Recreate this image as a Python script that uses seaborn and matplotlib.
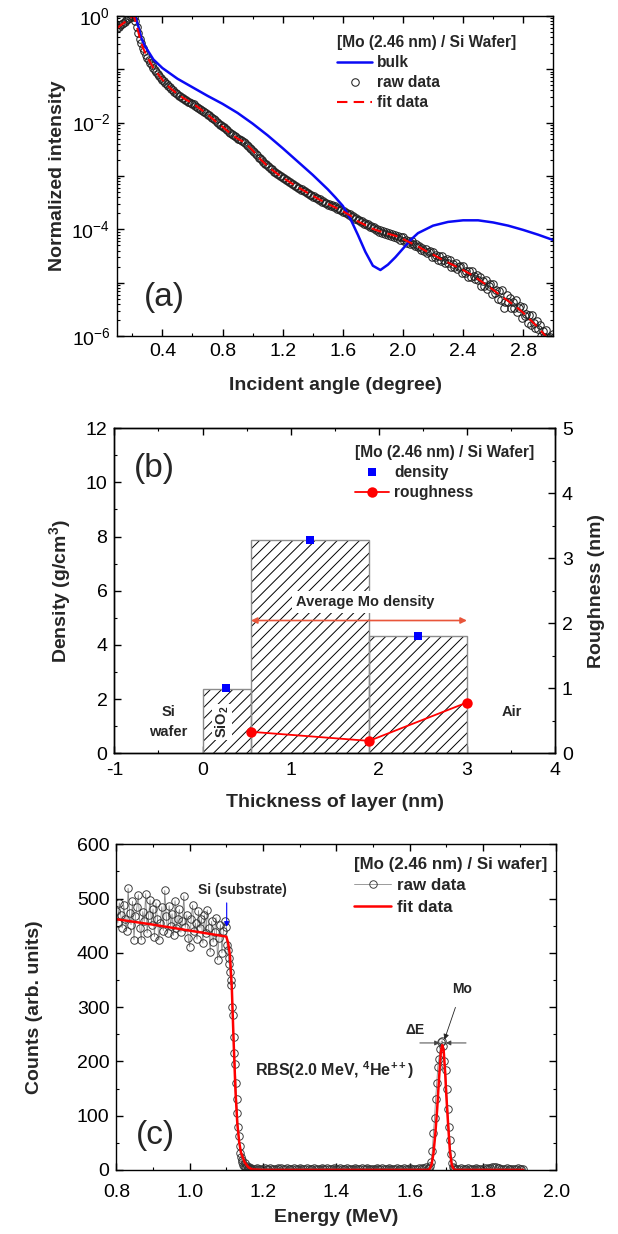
import numpy as np
import pandas as pd
import matplotlib
matplotlib.use('Agg')
import matplotlib.pyplot as plt
import seaborn as sns
from matplotlib.ticker import MultipleLocator, LogLocator, FuncFormatter, NullFormatter

# ── (a) XRR : incident angle (deg) / log10(normalized intensity) ─────────────
angle_bulk = [0.10, 0.20, 0.22, 0.24, 0.26, 0.28, 0.30, 0.34, 0.40, 0.50,
              0.60, 0.70, 0.80, 0.90, 1.00, 1.10, 1.20, 1.30, 1.40, 1.50,
              1.55, 1.60, 1.65, 1.70, 1.75, 1.80, 1.85, 1.90, 1.95, 2.00,
              2.05, 2.10, 2.20, 2.30, 2.40, 2.50, 2.60, 2.70, 2.80, 2.90, 3.00]
logI_bulk = [0.0, 0.0, -0.02, -0.20, -0.42, -0.55, -0.64, -0.82, -0.98, -1.18,
             -1.34, -1.50, -1.65, -1.82, -2.02, -2.24, -2.48, -2.73, -2.98, -3.25,
             -3.40, -3.56, -3.80, -4.10, -4.42, -4.68, -4.76, -4.66, -4.52, -4.36,
             -4.20, -4.07, -3.93, -3.86, -3.83, -3.83, -3.87, -3.93, -4.01, -4.10, -4.20]

angle_fit = [0.10, 0.15, 0.20, 0.21, 0.23, 0.25, 0.27, 0.30, 0.34, 0.40,
             0.45, 0.50, 0.55, 0.60, 0.65, 0.70, 0.75, 0.80, 0.85, 0.90,
             0.95, 1.00, 1.05, 1.10, 1.15, 1.20, 1.25, 1.30, 1.35, 1.40,
             1.45, 1.50, 1.55, 1.60, 1.65, 1.70, 1.75, 1.80, 1.85, 1.90,
             1.95, 2.00, 2.05, 2.10, 2.15, 2.20, 2.25, 2.30, 2.35, 2.40,
             2.45, 2.50, 2.55, 2.60, 2.65, 2.70, 2.75, 2.80, 2.85, 2.90,
             2.95, 3.00]
logI_fit = [-0.23, -0.12, -0.01, 0.0, -0.20, -0.42, -0.60, -0.78, -0.98, -1.20,
            -1.35, -1.47, -1.56, -1.64, -1.74, -1.85, -1.97, -2.08, -2.20, -2.30,
            -2.38, -2.52, -2.68, -2.82, -2.93, -3.03, -3.12, -3.21, -3.29, -3.37,
            -3.45, -3.52, -3.59, -3.66, -3.74, -3.85, -3.92, -3.99, -4.04, -4.08,
            -4.12, -4.18, -4.25, -4.32, -4.40, -4.47, -4.55, -4.62, -4.69, -4.76,
            -4.84, -4.93, -5.03, -5.13, -5.24, -5.34, -5.44, -5.56, -5.70, -5.84,
            -6.00, -6.15]

angle_raw = [0.10, 0.11, 0.12, 0.13, 0.14, 0.15, 0.16, 0.17, 0.18, 0.19,
             0.20, 0.21, 0.22, 0.23, 0.24, 0.25, 0.26, 0.27, 0.28, 0.29,
             0.30, 0.31, 0.32, 0.33, 0.34, 0.35, 0.36, 0.37, 0.38, 0.39,
             0.40, 0.41, 0.42, 0.43, 0.44, 0.45, 0.46, 0.47, 0.48, 0.49,
             0.50, 0.51, 0.52, 0.53, 0.54, 0.55, 0.56, 0.57, 0.58, 0.59,
             0.60, 0.61, 0.62, 0.63, 0.64, 0.65, 0.66, 0.67, 0.68, 0.69,
             0.70, 0.71, 0.72, 0.73, 0.74, 0.75, 0.76, 0.77, 0.78, 0.79,
             0.80, 0.81, 0.82, 0.83, 0.84, 0.85, 0.86, 0.87, 0.88, 0.89,
             0.90, 0.91, 0.92, 0.93, 0.94, 0.95, 0.96, 0.97, 0.98, 0.99,
             1.00, 1.01, 1.02, 1.03, 1.04, 1.05, 1.06, 1.07, 1.08, 1.09,
             1.10, 1.11, 1.12, 1.13, 1.14, 1.15, 1.16, 1.17, 1.18, 1.19,
             1.20, 1.21, 1.22, 1.23, 1.24, 1.25, 1.26, 1.27, 1.28, 1.29,
             1.30, 1.31, 1.32, 1.33, 1.34, 1.35, 1.36, 1.37, 1.38, 1.39,
             1.40, 1.41, 1.42, 1.43, 1.44, 1.45, 1.46, 1.47, 1.48, 1.49,
             1.50, 1.51, 1.52, 1.53, 1.54, 1.55, 1.56, 1.57, 1.58, 1.59,
             1.60, 1.61, 1.62, 1.63, 1.64, 1.65, 1.66, 1.67, 1.68, 1.69,
             1.70, 1.71, 1.72, 1.73, 1.74, 1.75, 1.76, 1.77, 1.78, 1.79,
             1.80, 1.81, 1.82, 1.83, 1.84, 1.85, 1.86, 1.87, 1.88, 1.89,
             1.90, 1.91, 1.92, 1.93, 1.94, 1.95, 1.96, 1.97, 1.98, 1.99,
             2.00, 2.01, 2.02, 2.03, 2.04, 2.05, 2.06, 2.07, 2.08, 2.09,
             2.10, 2.11, 2.12, 2.13, 2.14, 2.15, 2.16, 2.17, 2.18, 2.19,
             2.20, 2.21, 2.22, 2.23, 2.24, 2.25, 2.26, 2.27, 2.28, 2.29,
             2.30, 2.31, 2.32, 2.33, 2.34, 2.35, 2.36, 2.37, 2.38, 2.39,
             2.40, 2.41, 2.42, 2.43, 2.44, 2.45, 2.46, 2.47, 2.48, 2.49,
             2.50, 2.51, 2.52, 2.53, 2.54, 2.55, 2.56, 2.57, 2.58, 2.59,
             2.60, 2.61, 2.62, 2.63, 2.64, 2.65, 2.66, 2.67, 2.68, 2.69,
             2.70, 2.71, 2.72, 2.73, 2.74, 2.75, 2.76, 2.77, 2.78, 2.79,
             2.80, 2.81, 2.82, 2.83, 2.84, 2.85, 2.86, 2.87, 2.88, 2.89,
             2.90, 2.91, 2.92, 2.93, 2.94, 2.95, 2.96, 2.97, 2.98, 2.99,
             3.00]
logI_raw = [-0.24, -0.21, -0.18, -0.16, -0.13, -0.11, -0.09, -0.06, -0.04, -0.02,
            -0.01, -0.02, -0.10, -0.22, -0.33, -0.43, -0.52, -0.60, -0.67, -0.73,
            -0.79, -0.83, -0.88, -0.93, -0.97, -1.02, -1.05, -1.10, -1.12, -1.16,
            -1.20, -1.22, -1.26, -1.28, -1.32, -1.34, -1.38, -1.39, -1.43, -1.44,
            -1.47, -1.50, -1.50, -1.54, -1.55, -1.57, -1.58, -1.61, -1.61, -1.64,
            -1.65, -1.66, -1.69, -1.70, -1.73, -1.74, -1.77, -1.78, -1.81, -1.82,
            -1.85, -1.86, -1.89, -1.91, -1.94, -1.96, -1.99, -2.00, -2.04, -2.05,
            -2.08, -2.09, -2.13, -2.14, -2.18, -2.19, -2.22, -2.23, -2.26, -2.27,
            -2.30, -2.30, -2.33, -2.34, -2.37, -2.38, -2.42, -2.43, -2.47, -2.49,
            -2.53, -2.55, -2.59, -2.61, -2.66, -2.67, -2.71, -2.73, -2.77, -2.78,
            -2.82, -2.83, -2.87, -2.87, -2.92, -2.92, -2.96, -2.96, -3.00, -3.00,
            -3.04, -3.04, -3.08, -3.08, -3.12, -3.11, -3.15, -3.15, -3.19, -3.18,
            -3.22, -3.22, -3.26, -3.25, -3.29, -3.28, -3.32, -3.32, -3.36, -3.35,
            -3.39, -3.38, -3.42, -3.41, -3.45, -3.44, -3.48, -3.47, -3.51, -3.50,
            -3.54, -3.52, -3.56, -3.55, -3.59, -3.57, -3.62, -3.60, -3.64, -3.63,
            -3.67, -3.66, -3.70, -3.69, -3.73, -3.72, -3.77, -3.75, -3.80, -3.78,
            -3.83, -3.82, -3.86, -3.84, -3.89, -3.88, -3.92, -3.90, -3.95, -3.94,
            -3.98, -3.96, -4.01, -3.99, -4.04, -4.01, -4.06, -4.03, -4.09, -4.05,
            -4.11, -4.07, -4.13, -4.09, -4.15, -4.11, -4.17, -4.13, -4.20, -4.15,
            -4.14, -4.21, -4.20, -4.26, -4.22, -4.28, -4.21, -4.28, -4.31, -4.27,
            -4.33, -4.31, -4.39, -4.35, -4.40, -4.36, -4.45, -4.42, -4.41, -4.51,
            -4.42, -4.51, -4.48, -4.58, -4.50, -4.59, -4.50, -4.58, -4.62, -4.56,
            -4.63, -4.58, -4.71, -4.64, -4.71, -4.62, -4.75, -4.71, -4.69, -4.82,
            -4.69, -4.81, -4.77, -4.89, -4.78, -4.90, -4.78, -4.88, -4.93, -4.85,
            -4.95, -4.89, -5.05, -4.96, -5.05, -4.94, -5.12, -5.05, -5.03, -5.21,
            -5.03, -5.19, -5.14, -5.31, -5.16, -5.32, -5.14, -5.48, -5.36, -5.23,
            -5.36, -5.28, -5.48, -5.36, -5.47, -5.33, -5.55, -5.47, -5.44, -5.66,
            -5.46, -5.63, -5.59, -5.75, -5.61, -5.78, -5.61, -5.76, -5.84, -5.72,
            -5.86, -5.79, -6.00, -5.90, -6.02, -5.89, -6.12, -6.04, -6.02, -6.24,
            -5.95]

# ── (b) layer model : thickness (nm) ─────────────────────────────────────────
layer_start = [0.0, 0.55, 1.89]
layer_end = [0.55, 1.89, 3.0]
layer_density = [2.38, 7.87, 4.33]
density_pos = [0.27, 1.22, 2.44]
density_val = [2.40, 7.88, 4.32]
rough_pos = [0.55, 1.89, 3.0]
rough_val = [0.33, 0.19, 0.78]
avg_mo_span = [0.55, 3.0]
avg_mo_density = 4.9

# ── (c) RBS : energy (MeV) / counts ──────────────────────────────────────────
e_plateau = [0.800, 0.804, 0.808, 0.812, 0.816, 0.820, 0.824, 0.828, 0.832, 0.836,
             0.840, 0.844, 0.848, 0.852, 0.856, 0.860, 0.864, 0.868, 0.872, 0.876,
             0.880, 0.884, 0.888, 0.892, 0.896, 0.900, 0.904, 0.908, 0.912, 0.916,
             0.920, 0.924, 0.928, 0.932, 0.936, 0.940, 0.944, 0.948, 0.952, 0.956,
             0.960, 0.964, 0.968, 0.972, 0.976, 0.980, 0.984, 0.988, 0.992, 0.996,
             1.000, 1.004, 1.008, 1.012, 1.016, 1.020, 1.024, 1.028, 1.032, 1.036,
             1.040, 1.044, 1.048, 1.052, 1.056, 1.060, 1.064, 1.068, 1.072, 1.076,
             1.080, 1.084, 1.088, 1.092, 1.096, 1.100]
c_plateau = [478, 455, 492, 470, 446, 488, 462, 440, 519, 473,
             452, 495, 424, 468, 484, 507, 445, 424, 476, 458,
             509, 437, 470, 498, 452, 481, 430, 492, 463, 424,
             455, 485, 441, 515, 468, 436, 487, 450, 472, 432,
             496, 445, 463, 480, 438, 458, 505, 447, 470, 428,
             411, 462, 488, 440, 455, 425, 478, 446, 462, 418,
             470, 436, 479, 445, 402, 458, 420, 438, 465, 387,
             428, 452, 400, 440, 458, 448]
e_edge = [1.102, 1.104, 1.106, 1.108, 1.110, 1.112, 1.114, 1.116, 1.118, 1.120,
          1.122, 1.124, 1.126, 1.128, 1.130, 1.132, 1.134, 1.136, 1.138, 1.140,
          1.142, 1.144, 1.146, 1.148, 1.150, 1.152, 1.154, 1.156, 1.158, 1.160,
          1.162, 1.164, 1.166, 1.168, 1.170]
c_edge = [415, 405, 390, 380, 365, 350, 340, 300, 285, 245,
          215, 195, 160, 130, 105, 80, 62, 45, 32, 24,
          18, 14, 10, 8, 12, 6, 5, 8, 4, 3,
          5, 2, 3, 1, 2]
e_base = [1.175, 1.180, 1.185, 1.190, 1.195, 1.200, 1.205, 1.210, 1.215, 1.220,
          1.225, 1.230, 1.235, 1.240, 1.245, 1.250, 1.255, 1.260, 1.265, 1.270,
          1.275, 1.280, 1.285, 1.290, 1.295, 1.300, 1.305, 1.310, 1.315, 1.320,
          1.325, 1.330, 1.335, 1.340, 1.345, 1.350, 1.355, 1.360, 1.365, 1.370,
          1.375, 1.380, 1.385, 1.390, 1.395, 1.400, 1.405, 1.410, 1.415, 1.420,
          1.425, 1.430, 1.435, 1.440, 1.445, 1.450, 1.455, 1.460, 1.465, 1.470,
          1.475, 1.480, 1.485, 1.490, 1.495, 1.500, 1.505, 1.510, 1.515, 1.520,
          1.525, 1.530, 1.535, 1.540, 1.545, 1.550, 1.555, 1.560, 1.565, 1.570,
          1.575, 1.580, 1.585, 1.590, 1.595, 1.600, 1.605, 1.610, 1.615, 1.620,
          1.625, 1.630, 1.635, 1.640, 1.645]
c_base = [2, 1, 3, 2, 1, 2, 4, 2, 1, 3,
          2, 2, 1, 3, 2, 4, 1, 2, 3, 2,
          1, 2, 3, 1, 2, 4, 2, 1, 2, 3,
          2, 1, 2, 3, 1, 2, 2, 4, 1, 2,
          3, 2, 1, 2, 3, 2, 1, 4, 2, 2,
          1, 3, 2, 1, 2, 3, 2, 1, 2, 4,
          2, 1, 3, 2, 2, 1, 2, 3, 1, 2,
          4, 2, 1, 2, 3, 2, 1, 2, 3, 2,
          1, 2, 4, 2, 1, 3, 2, 2, 1, 2,
          3, 2, 4, 3, 5]
e_peak = [1.650, 1.653, 1.656, 1.659, 1.662, 1.665, 1.668, 1.671, 1.674, 1.677,
          1.680, 1.683, 1.686, 1.689, 1.692, 1.695, 1.698, 1.701, 1.704, 1.707,
          1.710, 1.713, 1.716, 1.719, 1.722, 1.725, 1.728]
c_peak = [2, 4, 8, 15, 35, 68, 95, 130, 160, 190,
          205, 222, 236, 238, 228, 200, 184, 150, 112, 80,
          55, 30, 12, 6, 3, 2, 1]
e_tail = [1.735, 1.740, 1.745, 1.750, 1.755, 1.760, 1.765, 1.770, 1.775, 1.780,
          1.785, 1.790, 1.795, 1.800, 1.805, 1.810, 1.815, 1.820, 1.825, 1.830,
          1.835, 1.840, 1.845, 1.850, 1.855, 1.860, 1.865, 1.870, 1.875, 1.880,
          1.885, 1.890, 1.895, 1.900, 1.905, 1.910]
c_tail = [1, 3, 2, 1, 2, 3, 2, 1, 2, 3,
          2, 1, 2, 2, 3, 2, 3, 4, 5, 6,
          5, 4, 3, 2, 1, 2, 3, 2, 1, 2,
          1, 2, 3, 1, 2, 2]

fit_energy = [0.80, 0.90, 1.00, 1.10, 1.105, 1.110, 1.115, 1.120, 1.125, 1.130,
              1.135, 1.140, 1.150, 1.160, 1.170, 1.200, 1.650, 1.655, 1.660, 1.665,
              1.670, 1.675, 1.680, 1.685, 1.689, 1.693, 1.697, 1.700, 1.705, 1.710,
              1.715, 1.720, 1.725, 1.910]
fit_counts = [462, 452, 441, 430, 418, 395, 335, 235, 145, 85,
              52, 32, 14, 5, 1, 0, 0, 2, 10, 30,
              65, 110, 165, 215, 230, 220, 180, 140, 85, 35,
              10, 2, 0, 0]

# ── Estilo ────────────────────────────────────────────────────────────────────
sns.set_style('ticks')
plt.rcParams.update({
    'font.family': ['Liberation Sans', 'DejaVu Sans'],
    'mathtext.fontset': 'custom',
    'mathtext.rm': 'Liberation Sans',
    'mathtext.bf': 'Liberation Sans:bold',
    'mathtext.it': 'Liberation Sans:italic',
    'axes.unicode_minus': False,
    'axes.edgecolor': 'black',
    'axes.linewidth': 1.0,
    'xtick.color': 'black',
    'ytick.color': 'black',
    'hatch.linewidth': 0.7,
})

TICK_FS = 14
LABEL_FS = 14


def style_ticks(ax, right=True, xpad=5):
    ax.tick_params(which='both', direction='in', top=True, right=right,
                   labelsize=TICK_FS, pad=5)
    ax.tick_params(axis='x', which='both', pad=xpad)
    ax.tick_params(which='major', length=5, width=1.0)
    ax.tick_params(which='minor', length=2.5, width=0.8)


def even_decades(v, _):
    e = int(round(np.log10(v)))
    return f'$\\mathdefault{{10^{{{e}}}}}$' if e % 2 == 0 else ''


fig = plt.figure(figsize=(6.18, 12.34), dpi=100)

# ── (a) ───────────────────────────────────────────────────────────────────────
ax_a = fig.add_axes([0.1898, 0.7275, 0.7055, 0.2598])
df_raw = pd.DataFrame({'angle': angle_raw, 'I': 10 ** np.array(logI_raw)})
sns.lineplot(data=df_raw, x='angle', y='I', ax=ax_a, marker='o', linestyle='',
             ms=5.4, mfc='none', mec='#222222', mew=0.75, color='#222222',
             estimator=None, sort=False, label='raw data')
sns.lineplot(x=angle_bulk, y=10 ** np.array(logI_bulk), ax=ax_a, color='#0a0af5',
             lw=1.8, estimator=None, sort=False, label='bulk')
sns.lineplot(x=angle_fit, y=10 ** np.array(logI_fit), ax=ax_a, color='red',
             lw=1.5, linestyle=(0, (5, 3)), estimator=None, sort=False, label='fit data')
ax_a.set_yscale('log')
ax_a.set_xlim(0.1, 3.0)
ax_a.set_ylim(1e-6, 1)
ax_a.xaxis.set_major_locator(MultipleLocator(0.4))
ax_a.xaxis.set_minor_locator(MultipleLocator(0.2))
ax_a.yaxis.set_major_locator(LogLocator(base=10, numticks=20))
ax_a.yaxis.set_major_formatter(FuncFormatter(even_decades))
ax_a.yaxis.set_minor_locator(LogLocator(base=10, subs=np.arange(2, 10), numticks=20))
ax_a.yaxis.set_minor_formatter(NullFormatter())
style_ticks(ax_a)
ax_a.set_xlabel('Incident angle (degree)', fontsize=LABEL_FS, fontweight='bold', labelpad=12)
ax_a.set_ylabel('Normalized intensity', fontsize=LABEL_FS, fontweight='bold', labelpad=4)

h, l = ax_a.get_legend_handles_labels()
order = [l.index('bulk'), l.index('raw data'), l.index('fit data')]
ax_a.legend([h[i] for i in order], [l[i] for i in order],
            title='[Mo (2.46 nm) / Si Wafer]', loc='upper left',
            bbox_to_anchor=(0.505, 0.94), frameon=False, alignment='left',
            prop={'weight': 'bold', 'size': 11.2},
            title_fontproperties={'weight': 'bold', 'size': 11.2},
            handlelength=2.2, handletextpad=0.35, labelspacing=0.33,
            borderpad=0, borderaxespad=0)
ax_a.text(0.06, 0.12, '(a)', transform=ax_a.transAxes, fontsize=24, va='center')

# ── (b) ───────────────────────────────────────────────────────────────────────
ax_b = fig.add_axes([0.1851, 0.3896, 0.713, 0.2634])
widths = np.subtract(layer_end, layer_start)
ax_b.bar(layer_start, layer_density, width=widths, align='edge', facecolor='white',
         edgecolor='black', lw=0, hatch='///', zorder=1)
ax_b.bar(layer_start, layer_density, width=widths, align='edge', fill=False,
         edgecolor='#8c8c8c', lw=1.0, zorder=2)
sns.lineplot(x=density_pos, y=density_val, ax=ax_b, marker='s', linestyle='',
             ms=5.8, color='#0000ff', mec='#0000ff', mew=0, estimator=None,
             label='density', zorder=5)
ax_b.annotate('', xy=(avg_mo_span[0], avg_mo_density), xytext=(avg_mo_span[1], avg_mo_density),
              arrowprops=dict(arrowstyle='<|-|>', color='#e8553a', lw=1.2,
                              shrinkA=0, shrinkB=0, mutation_scale=9), zorder=4)
ax_b.text(1.85, 5.59, 'Average Mo density', fontsize=10.5, fontweight='bold',
          ha='center', va='center', zorder=4,
          bbox=dict(facecolor='white', edgecolor='none', pad=3))
ax_b.text(-0.39, 1.16, 'Si\nwafer', fontsize=10.5, fontweight='bold',
          ha='center', va='center', linespacing=1.5)
ax_b.text(0.22, 1.15, 'SiO$_\\mathbf{2}$', fontsize=10.5, fontweight='bold',
          ha='center', va='center', rotation=90, zorder=4,
          bbox=dict(facecolor='white', edgecolor='none', pad=1))
ax_b.text(3.51, 1.54, 'Air', fontsize=10.5, fontweight='bold', ha='center', va='center')
ax_b.text(0.045, 0.875, '(b)', transform=ax_b.transAxes, fontsize=24, va='center')
ax_b.set_xlim(-1, 4)
ax_b.set_ylim(0, 12)
ax_b.xaxis.set_major_locator(MultipleLocator(1))
ax_b.xaxis.set_minor_locator(MultipleLocator(0.5))
ax_b.yaxis.set_major_locator(MultipleLocator(2))
ax_b.yaxis.set_minor_locator(MultipleLocator(1))
style_ticks(ax_b, right=False, xpad=6)
ax_b.set_xlabel('Thickness of layer (nm)', fontsize=LABEL_FS, fontweight='bold', labelpad=11)
ax_b.set_ylabel('Density (g/cm$^\\mathbf{3}$)', fontsize=LABEL_FS, fontweight='bold', labelpad=9)

ax_b2 = ax_b.twinx()
sns.lineplot(x=rough_pos, y=rough_val, ax=ax_b2, marker='o', color='red', lw=1.3,
             ms=7.5, mec='red', mew=0, estimator=None, sort=False, label='roughness')
ax_b2.set_ylim(0, 5)
ax_b2.yaxis.set_major_locator(MultipleLocator(1))
ax_b2.yaxis.set_minor_locator(MultipleLocator(0.5))
ax_b2.tick_params(which='both', direction='in', labelsize=TICK_FS, pad=5)
ax_b2.tick_params(which='major', length=5, width=1.0)
ax_b2.tick_params(which='minor', length=2.5, width=0.8)
ax_b2.set_ylabel('Roughness (nm)', fontsize=LABEL_FS, fontweight='bold', labelpad=11)

h1, l1 = ax_b.get_legend_handles_labels()
h2, l2 = ax_b2.get_legend_handles_labels()
if ax_b.get_legend() is not None:
    ax_b.get_legend().remove()
ax_b2.legend(h1 + h2, l1 + l2, title='[Mo (2.46 nm) / Si Wafer]', loc='upper left',
             bbox_to_anchor=(0.545, 0.948), frameon=False, alignment='left',
             prop={'weight': 'bold', 'size': 11.2},
             title_fontproperties={'weight': 'bold', 'size': 11.2},
             handlelength=2.2, handletextpad=0.35, labelspacing=0.33,
             borderpad=0, borderaxespad=0)

# ── (c) ───────────────────────────────────────────────────────────────────────
ax_c = fig.add_axes([0.1883, 0.0519, 0.7117, 0.2639])
energy_raw = e_plateau + e_edge + e_base + e_peak + e_tail
counts_raw = c_plateau + c_edge + c_base + c_peak + c_tail
df_rbs = pd.DataFrame({'E': energy_raw, 'counts': counts_raw})
sns.lineplot(data=df_rbs, x='E', y='counts', ax=ax_c, marker='o', ms=5.4,
             mfc='none', mec='#333333', mew=0.65, color='#8a8a8a', lw=0.6,
             estimator=None, sort=False, label='raw data')
sns.lineplot(x=fit_energy, y=fit_counts, ax=ax_c, color='red', lw=1.8,
             estimator=None, sort=False, label='fit data')
ax_c.set_xlim(0.8, 2.0)
ax_c.set_ylim(0, 600)
ax_c.xaxis.set_major_locator(MultipleLocator(0.2))
ax_c.xaxis.set_minor_locator(MultipleLocator(0.1))
ax_c.yaxis.set_major_locator(MultipleLocator(100))
ax_c.yaxis.set_minor_locator(MultipleLocator(50))
style_ticks(ax_c, xpad=10)
ax_c.set_xlabel('Energy (MeV)', fontsize=LABEL_FS, fontweight='bold', labelpad=6)
ax_c.set_ylabel('Counts (arb. units)', fontsize=LABEL_FS, fontweight='bold', labelpad=24)

ax_c.text(1.143, 516, 'Si (substrate)', fontsize=10, fontweight='bold', ha='center', va='center')
ax_c.annotate('', xy=(1.101, 448), xytext=(1.101, 492),
              arrowprops=dict(arrowstyle='-|>', color='#0000ff', lw=0.8,
                              shrinkA=0, shrinkB=0, mutation_scale=7))
ax_c.annotate('Mo', xy=(1.695, 240), xytext=(1.742, 333), fontsize=10, fontweight='bold',
              ha='center', va='center',
              arrowprops=dict(arrowstyle='-|>', color='#222222', lw=0.6,
                              shrinkA=6, shrinkB=0, mutation_scale=8))
ax_c.annotate('', xy=(1.682, 234), xytext=(1.628, 234),
              arrowprops=dict(arrowstyle='-|>', color='#444444', lw=0.7,
                              shrinkA=0, shrinkB=0, mutation_scale=7))
ax_c.annotate('', xy=(1.699, 234), xytext=(1.754, 234),
              arrowprops=dict(arrowstyle='-|>', color='#444444', lw=0.7,
                              shrinkA=0, shrinkB=0, mutation_scale=7))
ax_c.text(1.615, 257, '\u0394E', fontsize=10, fontweight='bold', ha='center', va='center')
ax_c.text(1.394, 184, 'RBS(2.0 MeV, $^\\mathbf{4}$He$^\\mathbf{++}$)', fontsize=11.5,
          fontweight='bold', ha='center', va='center')
ax_c.text(0.045, 0.107, '(c)', transform=ax_c.transAxes, fontsize=24, va='center')

ax_c.legend(title='[Mo (2.46 nm) / Si wafer]', loc='upper left',
            bbox_to_anchor=(0.54, 0.962), frameon=False, alignment='left',
            prop={'weight': 'bold', 'size': 12.2},
            title_fontproperties={'weight': 'bold', 'size': 12.2},
            handlelength=2.2, handletextpad=0.35, labelspacing=0.38,
            borderpad=0, borderaxespad=0)

fig.savefig('out.png', dpi=100)
plt.close(fig)
